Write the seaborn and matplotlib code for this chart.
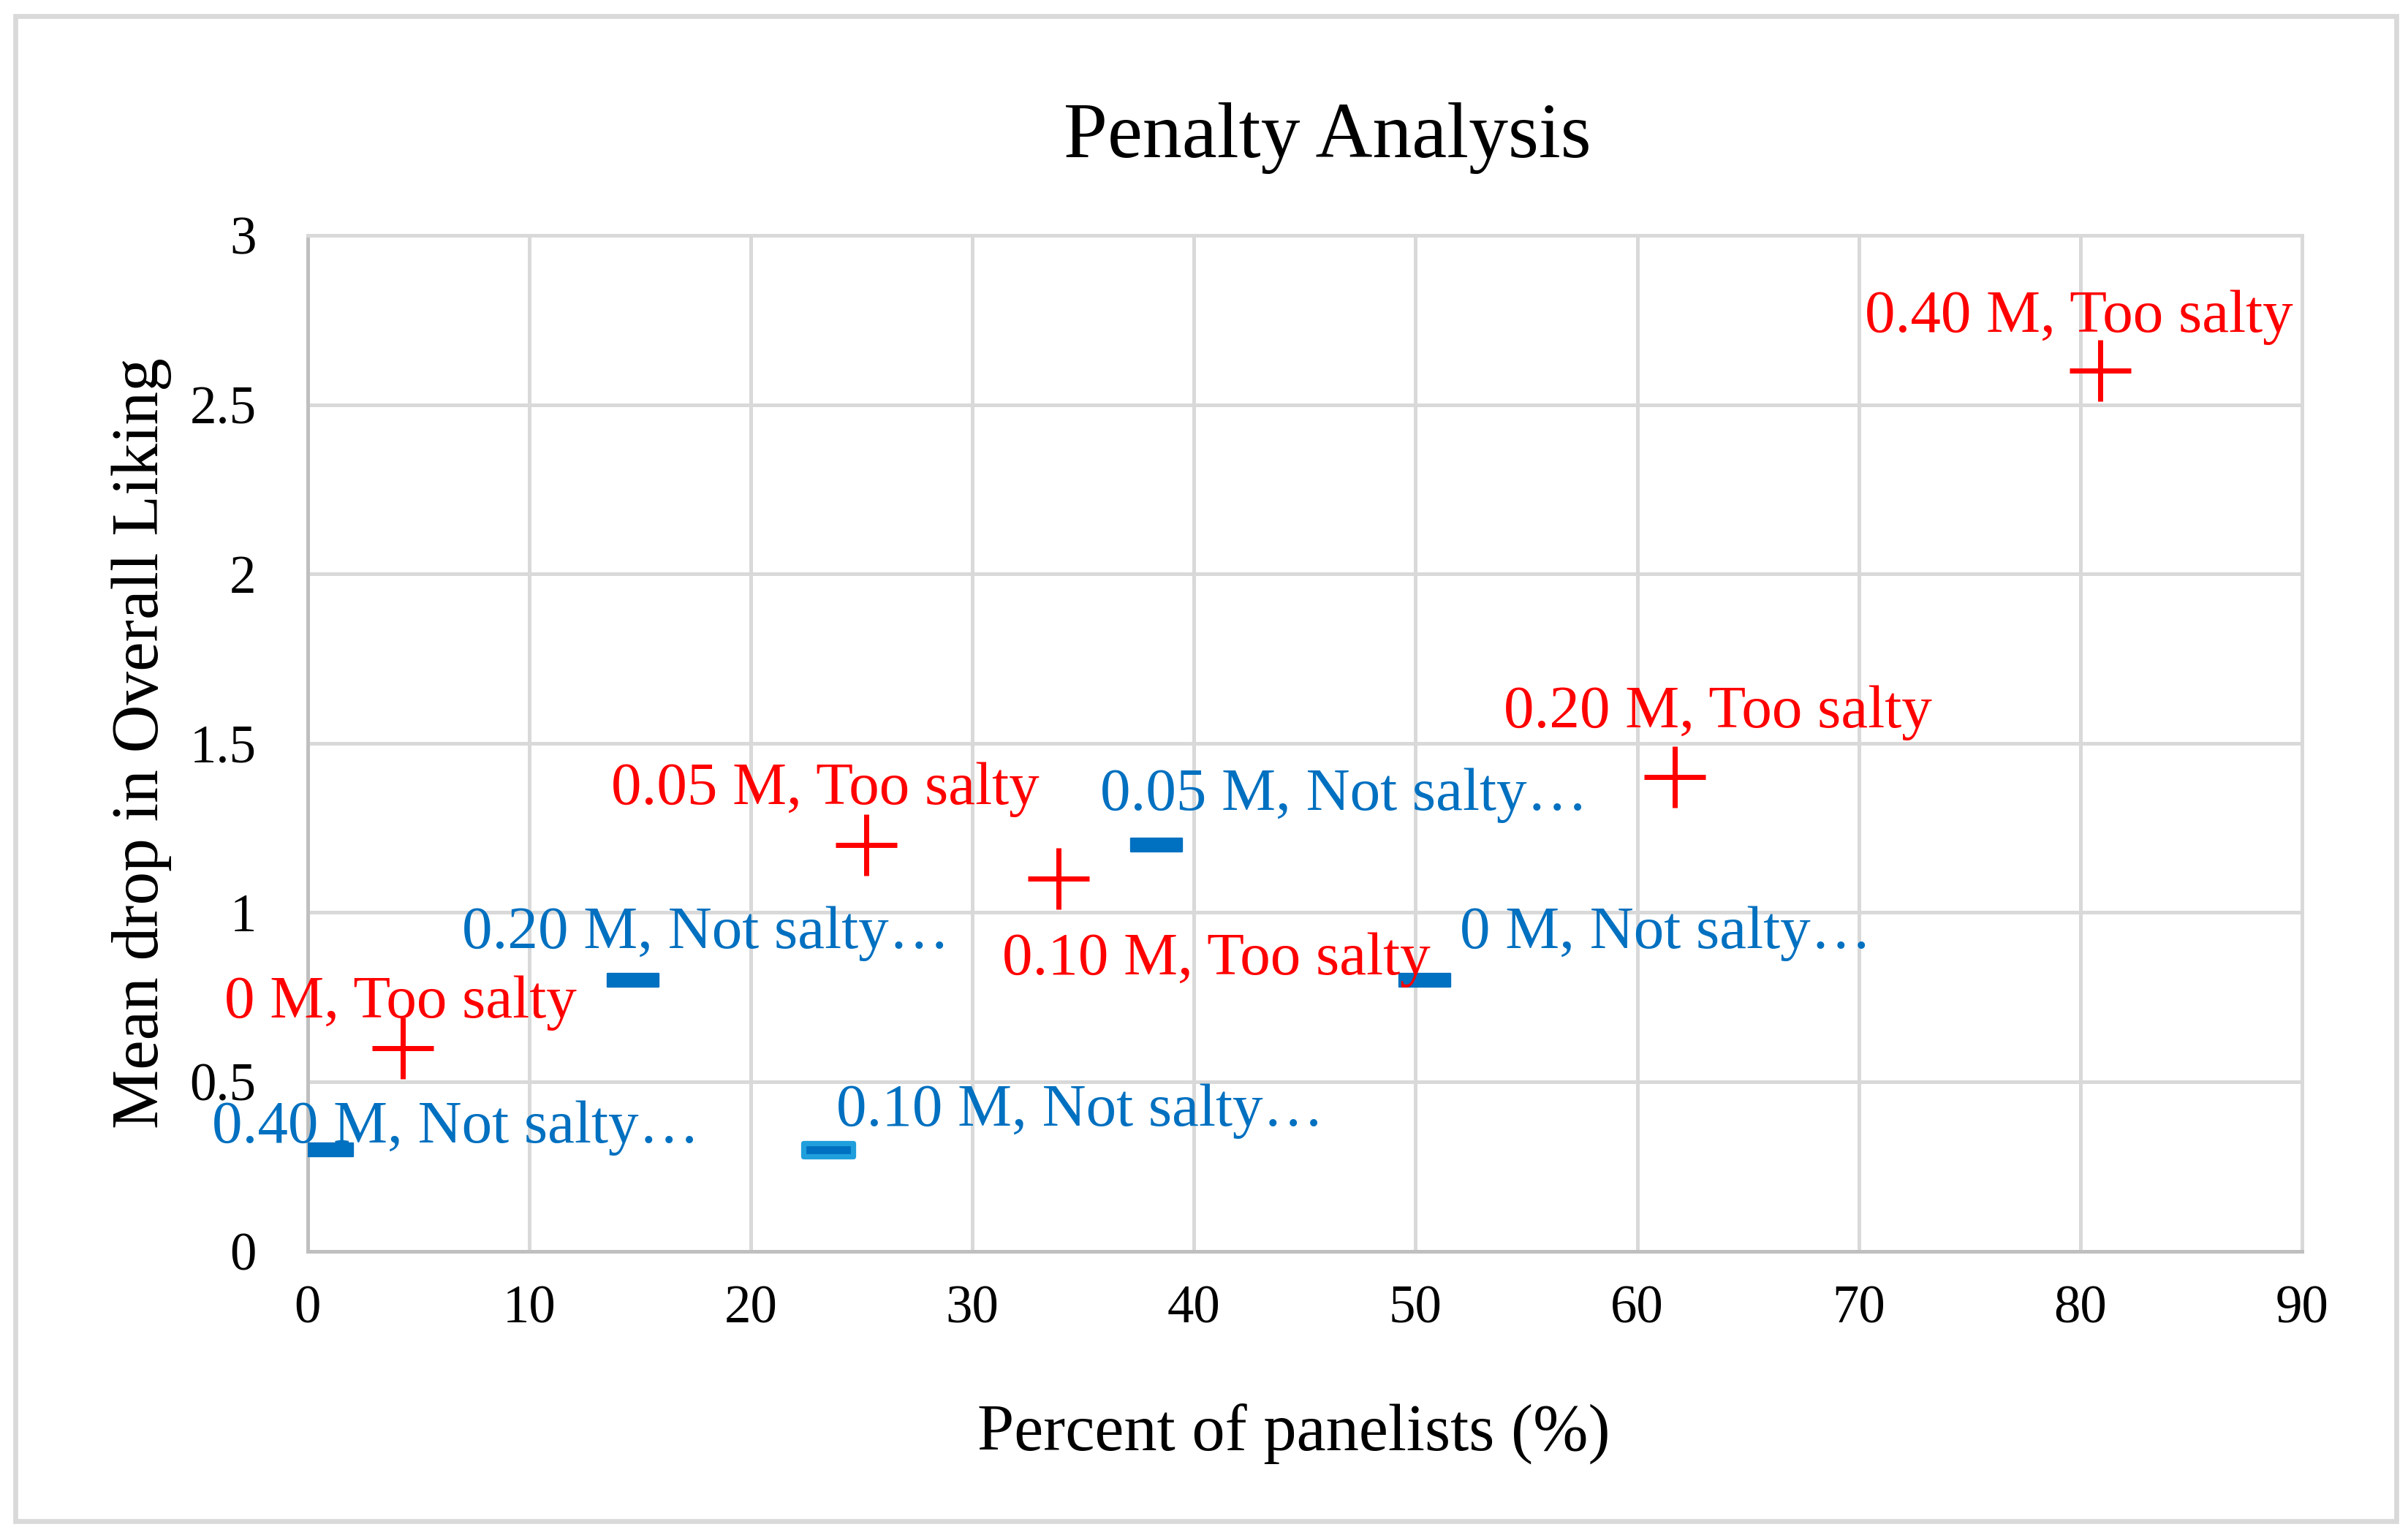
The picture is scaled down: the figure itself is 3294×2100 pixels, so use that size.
import numpy as np
import pandas as pd
import matplotlib.pyplot as plt
import seaborn as sns
from matplotlib.path import Path
from matplotlib.patches import Rectangle

# --- data ---
concentrations = ["0 M", "0.05 M", "0.10 M", "0.20 M", "0.40 M"]
too_salty_pct = [4.3, 25.2, 33.9, 61.7, 80.9]
too_salty_drop = [0.6, 1.2, 1.1, 1.4, 2.6]
not_salty_pct = [50.4, 38.3, 23.5, 14.7, 0.9]
not_salty_drop = [0.8, 1.2, 0.3, 0.8, 0.3]
x_ticks = [0, 10, 20, 30, 40, 50, 60, 70, 80, 90]
y_ticks = [0, 0.5, 1, 1.5, 2, 2.5, 3]
y_tick_labels = ["0", "0.5", "1", "1.5", "2", "2.5", "3"]

too = pd.DataFrame({"conc": concentrations, "pct": too_salty_pct, "drop": too_salty_drop})
too["label"] = too["conc"] + ", Too salty"
nots = pd.DataFrame({"conc": concentrations, "pct": not_salty_pct, "drop": not_salty_drop})
nots["label"] = nots["conc"] + ", Not salty…"

# label offsets (points) for the data labels, same order as concentrations
too_offsets = [(-1, 21), (-19, 26), (74, -38), (20, 30), (-10, 25)]
not_offsets = [(113, 22), (88, 23), (118, 18), (34, 22), (60, 10)]

RED = "#FF0000"
BLUE = "#0070C0"
GRID = "#D9D9D9"
AXIS = "#BFBFBF"

sns.set_theme(style="white")
plt.rcParams["font.family"] = ["Liberation Serif", "DejaVu Serif"]
plt.rcParams["text.color"] = "black"
plt.rcParams["axes.labelcolor"] = "black"

fig = plt.figure(figsize=(3294 / 210, 2100 / 210), dpi=210)
ax = fig.add_axes([0.1277, 0.185, 0.8283, 0.6617])

# chart-area border
fig.patches.append(Rectangle((21 / 3294, 1 - 2081 / 2100), (3278 - 21) / 3294, (2081 - 22) / 2100,
                             transform=fig.transFigure, fill=False, edgecolor=GRID, linewidth=2.3))

dash = Path([(-1, -0.27), (1, -0.27), (1, 0.27), (-1, 0.27), (-1, -0.27)],
            [Path.MOVETO, Path.LINETO, Path.LINETO, Path.LINETO, Path.CLOSEPOLY])

sns.scatterplot(data=too, x="pct", y="drop", marker="+", s=28.5 ** 2, color=RED,
                linewidth=2.4, ax=ax, zorder=3, legend=False)
sns.scatterplot(data=nots, x="pct", y="drop", marker=dash, s=24 ** 2, color=BLUE,
                edgecolor=BLUE, linewidth=0.8, ax=ax, zorder=3, legend=False)
hl = nots[nots["conc"] == "0.10 M"]
ax.scatter(hl["pct"], hl["drop"], marker=dash, s=23 ** 2, facecolor=BLUE,
           edgecolor="#1F9FDC", linewidth=2.5, zorder=4)

for (_, r), off in zip(too.iterrows(), too_offsets):
    ax.annotate(r["label"], (r["pct"], r["drop"]), xytext=off, textcoords="offset points",
                ha="center", va="center", color=RED, fontsize=28.5, zorder=5)
for (_, r), off in zip(nots.iterrows(), not_offsets):
    ax.annotate(r["label"], (r["pct"], r["drop"]), xytext=off, textcoords="offset points",
                ha="center", va="center", color=BLUE, fontsize=28.5, zorder=5)

ax.set_xlim(0, 90)
ax.set_ylim(0, 3)
ax.set_xticks(x_ticks)
ax.set_yticks(y_ticks)
ax.set_yticklabels(y_tick_labels)
ax.grid(True, color=GRID, linewidth=1.7)
ax.set_axisbelow(True)
for side in ["top", "right"]:
    ax.spines[side].set_color(GRID)
    ax.spines[side].set_linewidth(1.7)
for side in ["left", "bottom"]:
    ax.spines[side].set_color(AXIS)
    ax.spines[side].set_linewidth(1.7)
ax.tick_params(axis="both", length=0, labelsize=25, colors="black")
ax.tick_params(axis="y", pad=24)
ax.tick_params(axis="x", pad=16)

ax.set_xlabel("Percent of panelists (%)", fontsize=31, va="center")
ax.xaxis.set_label_coords(0.4946, -0.18)
ax.set_ylabel("Mean drop in Overall Liking", fontsize=31.3, va="center")
ax.yaxis.set_label_coords(-0.0833, 0.5)

fig.text(1816 / 3294, 1 - 189 / 2100, "Penalty Analysis", ha="center", va="center", fontsize=37)

plt.savefig("out.png", dpi=210)
plt.close()
